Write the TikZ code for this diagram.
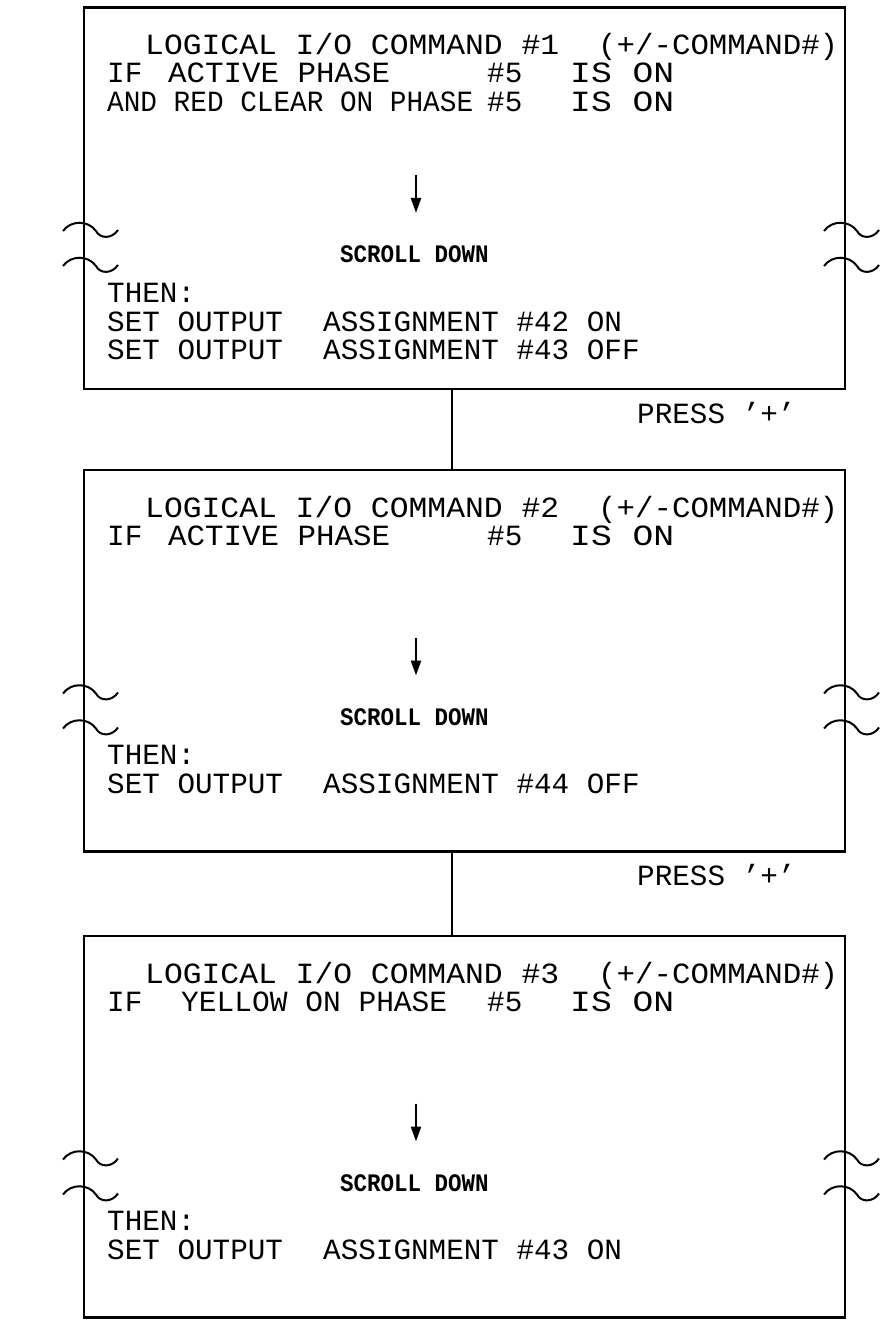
\documentclass[tikz,border=0pt]{standalone}
\usepackage{fontspec}
\usepackage{graphicx}
\newfontfamily\cadfont{Liberation Mono}
\usetikzlibrary{arrows.meta}
\newcommand\fitw[2]{\resizebox{#1pt}{\height}{#2}}
\newcommand\tallsc[1]{\scalebox{1}[1.12]{#1}}
\tikzset{
  panel/.style={draw, line width=2.6pt, minimum width=761pt, minimum height=381.5pt, inner sep=0pt, outer sep=0pt, anchor=north west},
  lbl/.style={font=\cadfont\fontsize{29.3}{30}\selectfont, anchor=base west, inner sep=0pt},
  smalllbl/.style={font=\cadfont\bfseries\fontsize{22.5}{24}\selectfont, anchor=base west, inner sep=0pt},
  wire/.style={line width=2pt},
  brk/.style={line width=2pt},
  downarrow/.style={line width=2.4pt, -{Triangle[length=15pt,width=10pt]}},
  brkmark/.pic={\draw[brk] (-21,1) .. controls (-13,-10) and (4,-10) .. (12,1) .. controls (16,9) and (28,9) .. (34,0);}
}
\begin{document}
\begin{tikzpicture}[x=1pt,y=-1pt]
\useasboundingbox (0,0) rectangle (881,1329);
% ---------- panel 1
\node[panel] (b1) at (84,7.5) {};
\begin{scope}[shift={(0,7.5)}]
\node[lbl] (t1a) at (145,47.5) {\fitw{414}{LOGICAL I/O COMMAND \#1}};
\node[lbl] (t1b) at (598,47.5) {\fitw{240}{(+/-COMMAND\#)}};
\node[lbl] (t1c) at (107,75.5) {IF};
\node[lbl] (t1d) at (168,75.5) {\fitw{222}{ACTIVE PHASE}};
\node[lbl] (t1e) at (487,75.5) {\#5};
\node[lbl] (t1f) at (570,75.5) {\fitw{104}{IS ON}};
\node[lbl] (t1g) at (107,104.5) {\fitw{366}{AND RED CLEAR ON PHASE}};
\node[lbl] (t1h) at (487,104.5) {\#5};
\node[lbl] (t1i) at (570,104.5) {\fitw{104}{IS ON}};
\coordinate (a1s) at (416,167.5); \coordinate (a1e) at (416,205.5);
\draw[downarrow] (a1s) -- (a1e);
\node[smalllbl] (s1) at (340,255.5) {\tallsc{SCROLL DOWN}};
\node[lbl] (t1j) at (107,294.5) {THEN:};
\node[lbl] (t1k) at (107,323.5) {SET OUTPUT};
\node[lbl] (t1l) at (323,323.5) {ASSIGNMENT \#42 ON};
\node[lbl] (t1m) at (107,351.5) {SET OUTPUT};
\node[lbl] (t1n) at (323,351.5) {ASSIGNMENT \#43 OFF};
\foreach \xx in {84,845} \foreach \yy in {222.5,257.5} \pic at (\xx,\yy) {brkmark};
\end{scope}
% ---------- panel 2
\node[panel] (b2) at (84,470) {};
\begin{scope}[shift={(0,470)}]
\node[lbl] (t2a) at (145,47.5) {\fitw{414}{LOGICAL I/O COMMAND \#2}};
\node[lbl] (t2b) at (598,47.5) {\fitw{240}{(+/-COMMAND\#)}};
\node[lbl] (t2c) at (107,75.5) {IF};
\node[lbl] (t2d) at (168,75.5) {\fitw{222}{ACTIVE PHASE}};
\node[lbl] (t2e) at (487,75.5) {\#5};
\node[lbl] (t2f) at (570,75.5) {\fitw{104}{IS ON}};
\coordinate (a2s) at (416,167.5); \coordinate (a2e) at (416,205.5);
\draw[downarrow] (a2s) -- (a2e);
\node[smalllbl] (s2) at (340,255.5) {\tallsc{SCROLL DOWN}};
\node[lbl] (t2j) at (107,294.5) {THEN:};
\node[lbl] (t2k) at (107,323.5) {SET OUTPUT};
\node[lbl] (t2l) at (323,323.5) {ASSIGNMENT \#44 OFF};
\foreach \xx in {84,845} \foreach \yy in {222.5,257.5} \pic at (\xx,\yy) {brkmark};
\end{scope}
% ---------- panel 3
\node[panel] (b3) at (84,936) {};
\begin{scope}[shift={(0,936)}]
\node[lbl] (t3a) at (145,47.5) {\fitw{414}{LOGICAL I/O COMMAND \#3}};
\node[lbl] (t3b) at (598,47.5) {\fitw{240}{(+/-COMMAND\#)}};
\node[lbl] (t3c) at (107,75.5) {IF};
\node[lbl] (t3d) at (181,75.5) {\fitw{266}{YELLOW ON PHASE}};
\node[lbl] (t3e) at (487,75.5) {\#5};
\node[lbl] (t3f) at (570,75.5) {\fitw{104}{IS ON}};
\coordinate (a3s) at (416,167.5); \coordinate (a3e) at (416,205.5);
\draw[downarrow] (a3s) -- (a3e);
\node[smalllbl] (s3) at (340,255.5) {\tallsc{SCROLL DOWN}};
\node[lbl] (t3j) at (107,294.5) {THEN:};
\node[lbl] (t3k) at (107,323.5) {SET OUTPUT};
\node[lbl] (t3l) at (323,323.5) {ASSIGNMENT \#43 ON};
\foreach \xx in {84,845} \foreach \yy in {222.5,257.5} \pic at (\xx,\yy) {brkmark};
\end{scope}
% ---------- connectors
\coordinate (cx) at (452,0);
\draw[wire] (b1.south -| cx) -- (b2.north -| cx);
\draw[wire] (b2.south -| cx) -- (b3.north -| cx);
\node[lbl] (p1) at (637,423) {PRESS ’+’};
\node[lbl] (p2) at (637,885.5) {PRESS ’+’};
\end{tikzpicture}
\end{document}
